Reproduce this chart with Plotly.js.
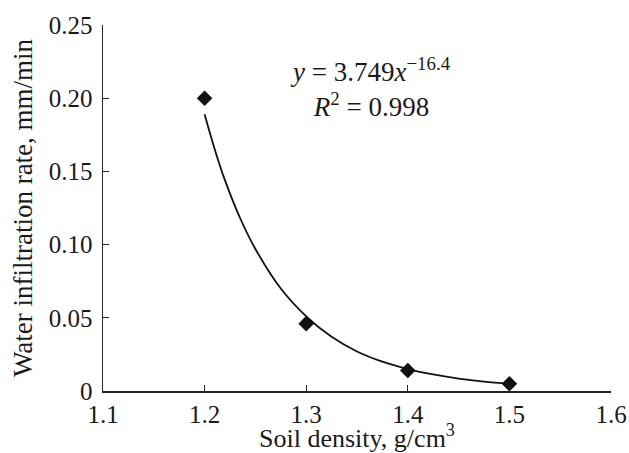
<!DOCTYPE html>
<html>
<head>
<meta charset="utf-8">
<script src="https://cdn.plot.ly/plotly-3.0.1.min.js"></script>
<style>html,body{margin:0;padding:0;background:#fff;}#chart{width:629px;height:453px;}</style>
</head>
<body>
<div id="chart"></div>
<script>
// Measured points
var density = [1.2, 1.3, 1.4, 1.5];
var infiltration = [0.200, 0.046, 0.014, 0.005];
// Trend line
var curveX = [1.20, 1.21, 1.22, 1.235, 1.25, 1.275, 1.30, 1.325, 1.35, 1.375, 1.40, 1.425, 1.45, 1.475, 1.50];
var curveY = [0.189, 0.165, 0.144, 0.118, 0.097, 0.070, 0.051, 0.037, 0.027, 0.020, 0.015, 0.0113, 0.0085, 0.0064, 0.0049];
var xTicks = [1.1, 1.2, 1.3, 1.4, 1.5, 1.6];
var yTicks = [0, 0.05, 0.10, 0.15, 0.20, 0.25];
var yTickText = ['0', '0.05', '0.10', '0.15', '0.20', '0.25'];

var fam = '"Liberation Serif", "Times New Roman", serif';
var tickFont = {family: fam, color: '#1a1a1a', size: 25};
var titleFont = {family: fam, color: '#1a1a1a', size: 27};

var traces = [
  {x: curveX, y: curveY, mode: 'lines', line: {color: '#111', width: 1.8, shape: 'spline'}, hoverinfo: 'skip'},
  {x: density, y: infiltration, mode: 'markers', marker: {symbol: 'diamond', size: 12, color: '#111'}}
];

var layout = {
  width: 629, height: 453,
  margin: {l: 103, r: 18, t: 25, b: 62},
  paper_bgcolor: '#fff', plot_bgcolor: '#fff',
  showlegend: false,
  font: tickFont,
  xaxis: {
    range: [1.1, 1.6], tickvals: xTicks, ticktext: xTicks.map(function(v){return v.toFixed(1);}),
    ticks: 'inside', ticklen: 6, tickwidth: 1.3, tickcolor: '#222',
    showline: true, linecolor: '#222', linewidth: 1.5, showgrid: false, zeroline: false,
    tickfont: tickFont,
    title: {text: 'Soil density, g/cm<sup>3</sup>', font: {family: fam, color: '#1a1a1a', size: 26}, standoff: 3}
  },
  yaxis: {
    range: [0, 0.25], tickvals: yTicks, ticktext: yTickText,
    ticks: 'inside', ticklen: 6, tickwidth: 1.3, tickcolor: '#222',
    showline: true, linecolor: '#222', linewidth: 1.5, showgrid: false, zeroline: false,
    tickfont: tickFont, ticklabelstandoff: 4,
    title: {text: 'Water infiltration rate, mm/min', font: titleFont, standoff: 8}
  },
  annotations: [{
    x: 1.363, y: 0.207, xref: 'x', yref: 'y', showarrow: false,
    text: '<i>y</i> = 3.749<i>x</i><sup>−16.4</sup><br><i>R</i><sup>2</sup> = 0.998',
    font: {family: fam, size: 27, color: '#1a1a1a'}, align: 'center'
  }]
};

Plotly.newPlot('chart', traces, layout, {displayModeBar: false, staticPlot: true});
</script>
</body>
</html>
